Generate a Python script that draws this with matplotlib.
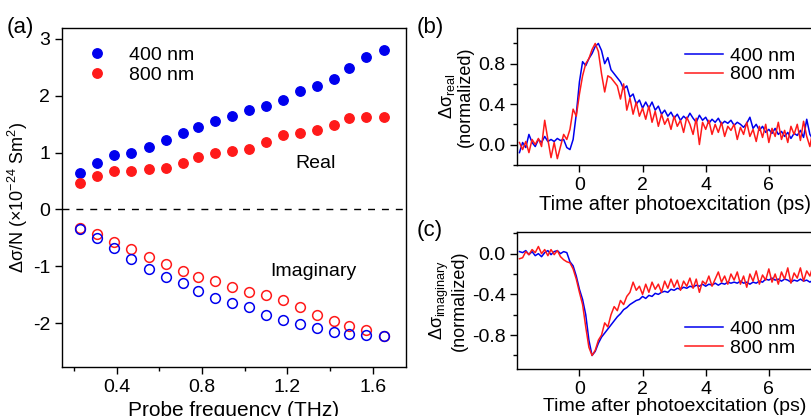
import numpy as np
import matplotlib
matplotlib.use('Agg')
import matplotlib.pyplot as plt
from matplotlib.ticker import MultipleLocator

plt.rcParams['font.family'] = ['Liberation Sans', 'DejaVu Sans']
plt.rcParams['mathtext.fontset'] = 'custom'
plt.rcParams['mathtext.rm'] = 'Liberation Sans'
plt.rcParams['mathtext.it'] = 'Liberation Sans'
plt.rcParams['axes.unicode_minus'] = False

# (a) spectra
freq = [0.23, 0.31, 0.39, 0.47, 0.55, 0.63, 0.71, 0.78, 0.86, 0.94,
        1.02, 1.10, 1.18, 1.26, 1.34, 1.42, 1.49, 1.57, 1.65]
real_400 = [0.64, 0.81, 0.95, 1.00, 1.09, 1.22, 1.34, 1.45, 1.56, 1.65,
            1.74, 1.82, 1.93, 2.09, 2.17, 2.30, 2.48, 2.68, 2.81]
real_800 = [0.46, 0.59, 0.67, 0.68, 0.71, 0.73, 0.82, 0.92, 1.00, 1.03,
            1.07, 1.19, 1.31, 1.35, 1.39, 1.49, 1.60, 1.63, 1.62]
imag_400 = [-0.35, -0.50, -0.67, -0.88, -1.04, -1.18, -1.29, -1.43, -1.56, -1.65,
            -1.72, -1.86, -1.95, -2.02, -2.09, -2.16, -2.19, -2.21, -2.22]
imag_800 = [-0.32, -0.44, -0.57, -0.70, -0.84, -0.96, -1.09, -1.18, -1.25, -1.37,
            -1.45, -1.51, -1.60, -1.72, -1.86, -1.97, -2.05, -2.12, -2.23]

# (b), (c) time traces, sampled every 0.1 ps from -1.9 ps
time_ps = np.round(np.arange(-1.9, 7.95, 0.1), 2)
dyn_real_400 = [
    -0.08, 0.02, -0.03, 0.10, 0.02, -0.02, 0.05, 0.02, 0.08, 0.03,
    0.05, 0.03, 0.06, 0.04, 0.05, -0.03, -0.05, 0.05, 0.30, 0.62,
    0.82, 0.78, 0.85, 0.90, 0.97, 1.00, 0.93, 0.80, 0.86, 0.74,
    0.70, 0.66, 0.62, 0.55, 0.58, 0.47, 0.50, 0.40, 0.44, 0.36,
    0.42, 0.36, 0.42, 0.34, 0.38, 0.30, 0.34, 0.28, 0.32, 0.26,
    0.30, 0.24, 0.28, 0.25, 0.31, 0.26, 0.22, 0.29, 0.24, 0.27,
    0.21, 0.25, 0.22, 0.26, 0.20, 0.23, 0.21, 0.24, 0.19, 0.22,
    0.20, 0.17, 0.21, 0.27, 0.16, 0.20, 0.14, 0.18, 0.12, 0.15,
    0.11, 0.16, 0.10, 0.13, 0.08, 0.12, 0.06, 0.11, 0.09, 0.14,
    0.07, 0.25, 0.10, 0.05, 0.12, 0.08, 0.15, 0.06, 0.10]
dyn_real_800 = [
    0.02, -0.05, 0.03, -0.08, 0.05, 0.00, 0.06, -0.02, 0.24, 0.05,
    -0.13, 0.02, -0.14, -0.02, 0.10, 0.05, 0.15, 0.35, 0.28, 0.50,
    0.68, 0.80, 0.85, 0.94, 1.00, 0.92, 0.70, 0.52, 0.68, 0.66,
    0.62, 0.58, 0.45, 0.60, 0.34, 0.46, 0.30, 0.42, 0.28, 0.36,
    0.25, 0.38, 0.22, 0.33, 0.18, 0.30, 0.20, 0.26, 0.15, 0.28,
    0.18, 0.24, 0.12, 0.27, 0.20, 0.10, 0.26, 0.00, 0.22, 0.15,
    0.24, 0.10, 0.20, 0.12, 0.22, 0.08, 0.18, 0.14, 0.20, 0.05,
    0.17, 0.10, 0.22, 0.08, 0.15, 0.03, 0.18, 0.07, 0.20, 0.02,
    0.16, 0.08, 0.22, 0.05, 0.14, 0.02, 0.18, 0.10, 0.20, 0.04,
    0.23, 0.08, -0.02, 0.15, 0.06, 0.20, 0.03, 0.16, 0.08]
dyn_imag_400 = [
    0.02, 0.01, 0.03, -0.01, 0.02, -0.02, 0.00, -0.03, 0.01, 0.03,
    -0.01, 0.02, 0.03, 0.00, 0.02, 0.01, -0.08, -0.12, -0.22, -0.35,
    -0.45, -0.60, -0.85, -1.00, -0.96, -0.88, -0.82, -0.78, -0.74, -0.70,
    -0.66, -0.62, -0.59, -0.55, -0.53, -0.50, -0.48, -0.46, -0.45, -0.42,
    -0.44, -0.41, -0.42, -0.39, -0.40, -0.38, -0.37, -0.38, -0.35, -0.36,
    -0.34, -0.35, -0.33, -0.34, -0.32, -0.33, -0.31, -0.32, -0.30, -0.32,
    -0.30, -0.31, -0.29, -0.31, -0.29, -0.30, -0.28, -0.29, -0.28, -0.29,
    -0.27, -0.29, -0.28, -0.30, -0.28, -0.29, -0.27, -0.28, -0.25, -0.26,
    -0.24, -0.26, -0.25, -0.27, -0.25, -0.26, -0.28, -0.26, -0.27, -0.25,
    -0.27, -0.26, -0.28, -0.26, -0.27, -0.25, -0.27, -0.26, -0.27]
dyn_imag_800 = [
    -0.05, -0.04, 0.02, -0.01, 0.04, 0.01, 0.07, 0.00, 0.04, -0.02,
    0.04, -0.01, 0.03, -0.03, -0.06, -0.08, -0.09, -0.15, -0.25, -0.38,
    -0.50, -0.72, -0.92, -1.00, -0.95, -0.85, -0.80, -0.68, -0.72, -0.60,
    -0.52, -0.56, -0.46, -0.50, -0.42, -0.38, -0.28, -0.36, -0.32, -0.40,
    -0.30, -0.38, -0.28, -0.35, -0.30, -0.38, -0.27, -0.34, -0.25, -0.33,
    -0.26, -0.36, -0.27, -0.32, -0.24, -0.34, -0.25, -0.38, -0.27, -0.30,
    -0.22, -0.32, -0.25, -0.18, -0.28, -0.22, -0.30, -0.20, -0.26, -0.18,
    -0.30, -0.22, -0.33, -0.20, -0.27, -0.17, -0.30, -0.21, -0.26, -0.15,
    -0.28, -0.20, -0.30, -0.18, -0.25, -0.14, -0.29, -0.19, -0.24, -0.14,
    -0.27, -0.17, -0.22, -0.12, -0.24, -0.16, -0.28, -0.13, -0.20]

BLUE = '#0000ee'
RED = '#ff1a1a'

fig = plt.figure(figsize=(8.12, 4.16), dpi=100)


def style_axis(ax):
    for s in ax.spines.values():
        s.set_linewidth(1.0)
    ax.tick_params(which='both', direction='out', labelsize=14, width=1.0)
    ax.tick_params(which='major', length=5)
    ax.tick_params(which='minor', length=3)


# panel (a)
ax_a = fig.add_axes([0.0764, 0.1178, 0.4236, 0.815])
ax_a.plot(freq, real_400, 'o', color=BLUE, ms=6.8, mec=BLUE, label='400 nm')
ax_a.plot(freq, real_800, 'o', color=RED, ms=6.8, mec=RED, label='800 nm')
ax_a.plot(freq, imag_800, 'o', mfc='none', mec=RED, ms=7, mew=1.1)
ax_a.plot(freq, imag_400, 'o', mfc='none', mec=BLUE, ms=7, mew=1.1)
ax_a.axhline(0, color='k', ls=(0, (5, 5)), lw=1.0)
ax_a.set_xlim(0.145, 1.755)
ax_a.set_ylim(-2.77, 3.19)
ax_a.xaxis.set_major_locator(MultipleLocator(0.4))
ax_a.xaxis.set_minor_locator(MultipleLocator(0.2))
ax_a.yaxis.set_major_locator(MultipleLocator(1))
style_axis(ax_a)
ax_a.set_xlabel('Probe frequency (THz)', fontsize=15, labelpad=4)
ax_a.set_ylabel('$\\Delta\\sigma$/N (\u00d710$^{-24}$ Sm$^2$)', fontsize=13, labelpad=2)
ax_a.text(0.677, 0.60, 'Real', transform=ax_a.transAxes, fontsize=14,
          ha='left', va='center')
ax_a.text(0.605, 0.281, 'Imaginary', transform=ax_a.transAxes, fontsize=14,
          ha='left', va='center')
ax_a.legend(loc='upper left', frameon=False, fontsize=14, handlelength=1.0,
            handletextpad=1.15, borderaxespad=0.3, labelspacing=0.1,
            bbox_to_anchor=(0.035, 0.985))
fig.text(0.008, 0.935, '(a)', fontsize=16, va='center')

# panel (b)
ax_b = fig.add_axes([0.637, 0.604, 0.3876, 0.328])
ax_b.plot(time_ps, dyn_real_400, color=BLUE, lw=1.1, label='400 nm')
ax_b.plot(time_ps, dyn_real_800, color=RED, lw=1.1, label='800 nm')
ax_b.set_xlim(-1.97, 8.0)
ax_b.set_ylim(-0.2, 1.15)
ax_b.xaxis.set_major_locator(MultipleLocator(2))
ax_b.yaxis.set_major_locator(MultipleLocator(0.4))
ax_b.yaxis.set_minor_locator(MultipleLocator(0.2))
style_axis(ax_b)
ax_b.set_xlabel('Time after photoexcitation (ps)', fontsize=14.5, labelpad=1)
ax_b.set_ylabel('$\\Delta\\sigma_{\\mathrm{real}}$\n(normalized)', fontsize=13,
                labelpad=3, linespacing=1.0)
ax_b.legend(loc='upper right', frameon=False, fontsize=14, handlelength=1.95,
            handletextpad=0.4, labelspacing=0.05, bbox_to_anchor=(0.94, 0.99))
fig.text(0.513, 0.935, '(b)', fontsize=16, va='center')

# panel (c)
ax_c = fig.add_axes([0.637, 0.1137, 0.3876, 0.328])
ax_c.plot(time_ps, dyn_imag_400, color=BLUE, lw=1.1, label='400 nm')
ax_c.plot(time_ps, dyn_imag_800, color=RED, lw=1.1, label='800 nm')
ax_c.set_xlim(-1.97, 8.0)
ax_c.set_ylim(-1.13, 0.21)
ax_c.xaxis.set_major_locator(MultipleLocator(2))
ax_c.yaxis.set_major_locator(MultipleLocator(0.4))
ax_c.yaxis.set_minor_locator(MultipleLocator(0.2))
style_axis(ax_c)
ax_c.set_xlabel('Time after photoexcitation (ps)', fontsize=14, labelpad=0)
ax_c.set_ylabel('$\\Delta\\sigma_{\\mathrm{imaginary}}$\n(normalized)', fontsize=13,
                labelpad=3, linespacing=1.0)
ax_c.legend(loc='lower right', frameon=False, fontsize=14, handlelength=1.95,
            handletextpad=0.4, labelspacing=0.05, bbox_to_anchor=(0.94, -0.04))
fig.text(0.513, 0.445, '(c)', fontsize=16, va='center')

fig.savefig('out.png', dpi=100)
